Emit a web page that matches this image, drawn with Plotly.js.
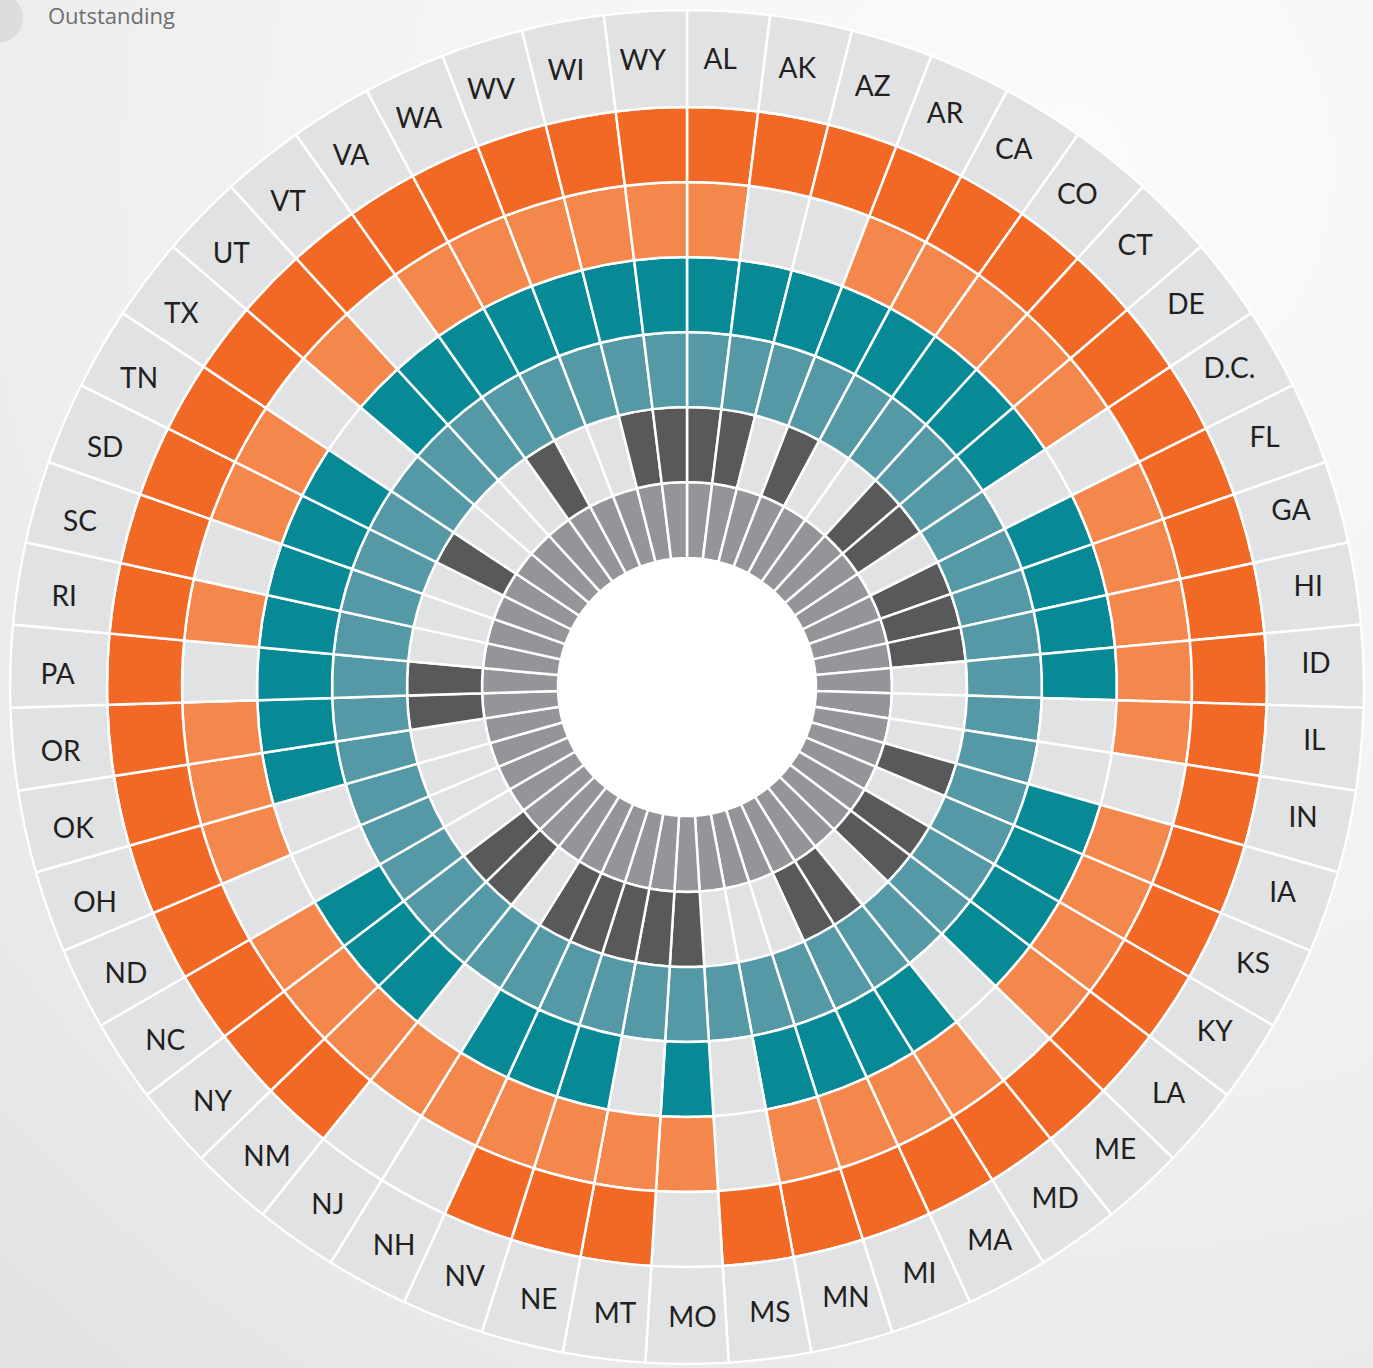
<!DOCTYPE html>
<html>
<head>
<meta charset="utf-8">
<script src="https://cdn.plot.ly/plotly-3.0.1.min.js"></script>
<style>
  html, body { margin: 0; padding: 0; }
  body {
    width: 1373px; height: 1368px; overflow: hidden;
    background: radial-gradient(circle at 78% 12%, #fbfbfb 0%, #f4f4f4 40%, #ebebeb 75%, #e2e2e2 100%);
  }
  #chart { width: 1373px; height: 1368px; }
</style>
</head>
<body>
<div id="chart"></div>
<script>
// States in clockwise order, starting at the top
const states = ["AL","AK","AZ","AR","CA","CO","CT","DE","D.C.","FL",
                "GA","HI","ID","IL","IN","IA","KS","KY","LA","ME",
                "MD","MA","MI","MN","MS","MO","MT","NE","NV","NH",
                "NJ","NM","NY","NC","ND","OH","OK","OR","PA","RI",
                "SC","SD","TN","TX","UT","VT","VA","WA","WV","WI","WY"];

// 1 = cell filled with the ring colour, 0 = empty (light gray); inner ring first
const ring1 = [1,1,1,1,1,1,1,1,1,1, 1,1,1,1,1,1,1,1,1,1, 1,1,1,1,1,1,1,1,1,1, 1,1,1,1,1,1,1,1,1,1, 1,1,1,1,1,1,1,1,1,1, 1];
const ring2 = [1,1,0,1,0,0,1,1,0,1, 1,1,0,0,0,1,0,1,1,0, 1,1,0,0,0,1,1,1,1,1, 0,1,1,0,0,0,0,1,1,0, 0,0,1,0,0,0,1,0,0,1, 1];
const ring3 = [1,1,1,1,1,1,1,1,1,1, 1,1,1,1,1,1,1,1,1,1, 1,1,1,1,1,1,1,1,1,1, 1,1,1,1,1,1,1,1,1,1, 1,1,1,1,1,1,1,1,1,1, 1];
const ring4 = [1,1,1,1,1,1,1,1,0,1, 1,1,1,0,0,1,1,1,1,0, 1,1,1,1,0,1,0,1,1,1, 0,1,1,1,0,0,1,1,1,1, 1,1,1,0,1,1,1,1,1,1, 1];
const ring5 = [1,0,0,1,1,1,1,1,0,1, 1,1,1,1,0,1,1,1,1,0, 1,1,1,1,0,1,1,1,1,1, 1,1,1,1,0,1,1,1,0,1, 0,1,1,0,1,0,1,1,1,1, 1];
const ring6 = [1,1,1,1,1,1,1,1,1,1, 1,1,1,1,1,1,1,1,1,1, 1,1,1,1,1,0,1,1,1,0, 0,1,1,1,1,1,1,1,1,1, 1,1,1,1,1,1,1,1,1,1, 1];

const legendLabel = "Outstanding";

// ---- styling / geometry ----
const rings = [ring1, ring2, ring3, ring4, ring5, ring6];
const ringColors = ["#939598", "#58595b", "#5599a6", "#078a96", "#f4874b", "#f26925"];
const EMPTY = "#e1e2e4";
const LABEL_BG = "#e1e2e4";
const EDGES = [129, 205, 280, 355, 430, 505, 580, 677];
const R_MAX = 678;
const LABEL_R = 630;
const LABEL_DROP = 4;      // px: labels sit slightly lower in the original
const LABEL_TURN = 0.5;    // deg: labels slightly rotated counter-clockwise

const traces = rings.map((vals, k) => ({
  type: "barpolar",
  theta: states,
  base: EDGES[k],
  r: states.map(() => EDGES[k + 1] - EDGES[k]),
  marker: {
    color: vals.map(v => v ? ringColors[k] : EMPTY),
    line: { color: "#ffffff", width: 2.5 }
  },
  hoverinfo: "theta",
  showlegend: false
}));

traces.push({
  type: "barpolar",
  theta: states,
  base: EDGES[6],
  r: states.map(() => EDGES[7] - EDGES[6]),
  marker: { color: LABEL_BG, line: { color: "#ffffff", width: 2.5 } },
  hoverinfo: "none",
  showlegend: false
});

traces.push({
  type: "scatterpolar",
  subplot: "polar2",
  mode: "text",
  theta: states,
  r: states.map(() => LABEL_R),
  text: states,
  textfont: { family: "Lato, 'Open Sans', sans-serif", size: 28, color: "#231f20" },
  hoverinfo: "none",
  showlegend: false
});

const W = 1373, H = 1368, CX = 687, CY = 687;
function polarCfg(dropPx, rot, bg) {
  return {
    domain: {
      x: [(CX - R_MAX) / W, (CX + R_MAX) / W],
      y: [(H - CY - dropPx - R_MAX) / H, (H - CY - dropPx + R_MAX) / H]
    },
    bgcolor: bg,
    bargap: 0,
    radialaxis: { visible: false, range: [0, R_MAX] },
    angularaxis: {
      type: "category",
      categoryorder: "array",
      categoryarray: states,
      direction: "clockwise",
      rotation: rot,
      showline: false, showgrid: false, showticklabels: false, ticks: ""
    }
  };
}
const baseRot = 90 - 180 / states.length;

const layout = {
  width: W, height: H,
  margin: { l: 0, r: 0, t: 0, b: 0 },
  paper_bgcolor: "rgba(0,0,0,0)",
  plot_bgcolor: "rgba(0,0,0,0)",
  showlegend: false,
  polar: polarCfg(0, baseRot, "#ffffff"),
  polar2: polarCfg(LABEL_DROP, baseRot + LABEL_TURN, "rgba(0,0,0,0)"),
  shapes: [{
    type: "circle", xref: "paper", yref: "paper",
    x0: -27 / W, x1: 23 / W, y0: 1 - 43 / H, y1: 1 + 7 / H,
    fillcolor: "#dcdddf", line: { width: 0 }, layer: "above"
  }],
  annotations: [{
    text: legendLabel, xref: "paper", yref: "paper",
    x: 46 / W, y: 1 - 15 / H, xanchor: "left", yanchor: "middle",
    showarrow: false,
    font: { family: "'Open Sans', sans-serif", size: 22, color: "#6d6e71" }
  }]
};

Plotly.newPlot("chart", traces, layout, { displayModeBar: false, staticPlot: true });
</script>
</body>
</html>
